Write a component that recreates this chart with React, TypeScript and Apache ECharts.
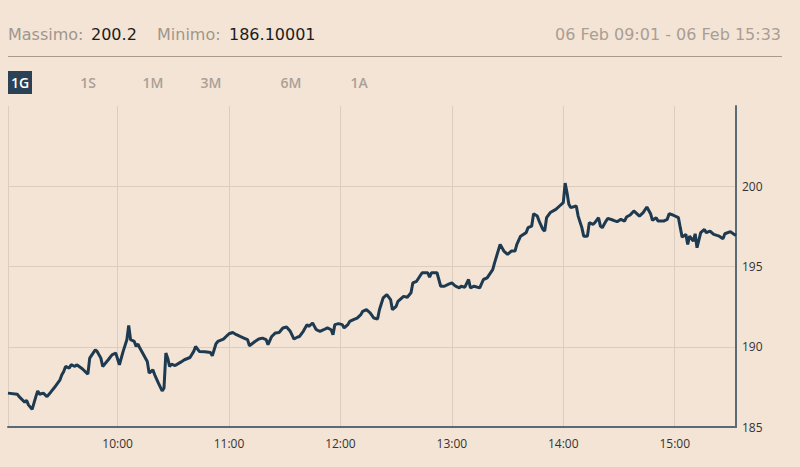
import React, { useEffect, useRef } from "react";
import * as echarts from "echarts";

const DAY = "2024-02-06";
const times: string[] = [
  "09:01","09:06","09:07","09:10","09:11","09:12","09:14","09:16","09:17","09:18",
  "09:20","09:22","09:24","09:26","09:29","09:30","09:31","09:32","09:34","09:35",
  "09:37","09:38","09:41","09:44","09:45","09:48","09:49","09:51","09:52","09:55",
  "09:57","09:59","10:01","10:03","10:05","10:06","10:07","10:09","10:10","10:11",
  "10:12","10:14","10:16","10:17","10:19","10:20","10:22","10:24","10:25","10:26",
  "10:27","10:28","10:29","10:31","10:34","10:36","10:39","10:41","10:42","10:44",
  "10:47","10:50","10:51","10:53","10:54","10:57","11:00","11:02","11:04","11:06",
  "11:08","11:10","11:11","11:14","11:16","11:18","11:20","11:21","11:23","11:25",
  "11:27","11:29","11:31","11:33","11:35","11:37","11:38","11:40","11:42","11:43",
  "11:45","11:46","11:47","11:49","11:51","11:53","11:55","11:56","11:57","11:59",
  "12:01","12:02","12:04","12:05","12:07","12:09","12:11","12:12","12:14","12:16",
  "12:18","12:20","12:21","12:23","12:25","12:27","12:28","12:30","12:31","12:34",
  "12:36","12:38","12:39","12:41","12:44","12:47","12:48","12:49","12:52","12:54",
  "12:56","12:58","13:00","13:02","13:04","13:05","13:07","13:09","13:10","13:12",
  "13:15","13:17","13:19","13:22","13:23","13:26","13:28","13:30","13:32","13:34",
  "13:35","13:37","13:40","13:41","13:43","13:44","13:46","13:47","13:49","13:50",
  "13:51","13:53","13:56","13:58","14:00","14:01","14:02","14:03","14:04","14:07",
  "14:08","14:10","14:11","14:13","14:14","14:16","14:17","14:19","14:20","14:21",
  "14:23","14:24","14:27","14:29","14:31","14:33","14:34","14:36","14:38","14:39",
  "14:41","14:43","14:45","14:47","14:48","14:50","14:51","14:54","14:56","14:57",
  "14:59","15:02","15:03","15:04","15:06","15:07","15:08","15:10","15:11","15:12",
  "15:14","15:16","15:17","15:19","15:21","15:24","15:26","15:27","15:30","15:32",
  "15:33"
];
const prices: number[] = [
  187.11,187.04,186.89,186.54,186.67,186.38,186.10,186.89,187.25,187.04,
  187.11,186.89,187.17,187.46,187.94,188.25,188.46,188.77,188.67,188.88,
  188.77,188.88,188.63,188.29,189.29,189.81,189.71,189.29,188.77,189.19,
  189.50,189.61,188.88,189.71,190.44,191.33,190.44,190.33,190.02,190.17,
  189.92,189.50,189.08,188.36,188.56,188.25,187.73,187.25,187.42,189.61,
  189.29,188.77,188.92,188.83,189.04,189.19,189.33,189.71,190.02,189.71,
  189.69,189.64,189.44,190.19,190.33,190.48,190.81,190.89,190.75,190.64,
  190.54,190.44,190.06,190.33,190.48,190.54,190.44,190.13,190.64,190.86,
  190.89,191.17,191.23,190.96,190.48,190.61,190.64,190.96,191.38,191.27,
  191.48,191.27,191.06,190.96,191.06,191.17,191.06,190.75,191.38,191.44,
  191.38,191.17,191.38,191.58,191.69,191.79,192.00,192.21,192.31,192.11,
  191.79,191.73,192.31,193.04,193.25,192.94,192.31,192.52,192.83,193.14,
  193.08,193.36,193.98,194.08,194.61,194.61,194.33,194.61,194.61,193.77,
  193.77,193.88,193.98,193.77,193.67,193.77,193.71,194.19,193.67,193.77,
  193.67,194.19,194.29,194.81,195.23,196.38,195.96,195.75,195.96,195.96,
  196.38,196.89,197.11,197.42,197.52,198.29,198.14,197.83,197.31,197.21,
  198.04,198.36,198.56,198.77,198.98,200.20,199.61,198.88,198.67,198.77,
  198.14,197.42,196.89,196.89,197.73,197.63,197.73,198.04,197.52,197.42,
  197.83,198.00,197.88,197.79,197.94,197.83,198.08,198.21,198.46,198.36,
  198.14,198.36,198.71,198.29,197.88,198.04,197.83,197.83,197.94,198.29,
  198.21,198.04,197.42,196.83,197.00,196.38,196.89,196.58,197.04,196.17,
  197.11,197.31,197.11,197.21,197.00,196.89,196.73,197.04,197.17,197.00,
  196.94
];
const yTicks: number[] = [185, 190, 195, 200, 205];
const periods: string[] = ["1G", "1S", "1M", "3M", "6M", "1A"];
const periodX: number[] = [20, 88, 153, 211, 291, 359];
const maxText = "200.2";
const minText = "186.10001";
const rangeText = "06 Feb 09:01 - 06 Feb 15:33";

const BG = "#f4e4d5";
const GRID = "#dccdbf";
const AXIS = "#5b6b75";
const FONT = "'Open Sans', sans-serif";
const HFONT = "'DejaVu Sans', sans-serif";

export default function App() {
  const ref = useRef<HTMLDivElement>(null);
  useEffect(() => {
    if (!ref.current) return;
    const chart = echarts.init(ref.current, null, { renderer: "svg" });
    const data = times.map((t, i) => [`${DAY} ${t}`, prices[i]]);
    const txt = (text: string, x: number, y: number, fill: string, font: string, align = "left") => ({
      type: "text",
      x,
      y,
      style: { text, fill, font, textAlign: align, textVerticalAlign: "middle", align, verticalAlign: "middle" },
    });
    const graphic: any[] = [
      txt("Massimo:", 8, 34, "#a0968c", `16px ${HFONT}`),
      txt(maxText, 91, 34, "#1c1c1c", `16px ${HFONT}`),
      txt("Minimo:", 157, 34, "#a0968c", `16px ${HFONT}`),
      txt(minText, 229, 34, "#1c1c1c", `16px ${HFONT}`),
      txt(rangeText, 781, 34, "#a89e94", `16px ${HFONT}`, "right"),
      { type: "line", shape: { x1: 8, y1: 56.5, x2: 782, y2: 56.5 }, style: { stroke: "#a89a8c", lineWidth: 1 } },
      { type: "rect", shape: { x: 8, y: 71, width: 24, height: 23 }, style: { fill: "#2b4156" } },
    ];
    periods.forEach((p, i) => {
      graphic.push(
        txt(p, periodX[i], 82.5, i === 0 ? "#ffffff" : "#aaa096", `600 14px ${FONT}`, "center")
      );
    });
    chart.setOption({
      animation: false,
      backgroundColor: BG,
      grid: { left: 8, right: 64, top: 106, bottom: 40, containLabel: false },
      graphic,
      xAxis: {
        type: "time",
        min: `${DAY} 09:01`,
        max: `${DAY} 15:33`,
        minInterval: 3600 * 1000,
        maxInterval: 3600 * 1000,
        axisLine: { show: true, lineStyle: { color: AXIS, width: 2 } },
        axisTick: { show: false },
        splitLine: { show: true, lineStyle: { color: GRID, width: 1 } },
        axisLabel: {
          formatter: "{HH}:{mm}",
          color: "#333333",
          fontFamily: FONT,
          fontSize: 12,
          margin: 10,
          showMinLabel: false,
          showMaxLabel: false,
        },
      },
      yAxis: {
        type: "value",
        position: "right",
        min: yTicks[0],
        max: yTicks[yTicks.length - 1],
        interval: 5,
        axisLine: { show: true, lineStyle: { color: AXIS, width: 2 } },
        axisTick: { show: false },
        splitLine: {
          show: true,
          lineStyle: { color: ["transparent", GRID, GRID, GRID, "transparent"], width: 1 },
        },
        axisLabel: {
          color: "#333333",
          fontFamily: FONT,
          fontSize: 12,
          margin: 6,
          formatter: (v: number) => (v === 205 ? "" : String(v)),
        },
      },
      series: [
        {
          type: "line",
          data,
          showSymbol: false,
          symbol: "none",
          lineStyle: { color: "#1e3a51", width: 3 },
        },
      ],
    });
    return () => chart.dispose();
  }, []);
  return (
    <div
      ref={ref}
      style={{ position: "absolute", left: 0, top: 0, width: 800, height: 467 }}
    />
  );
}
